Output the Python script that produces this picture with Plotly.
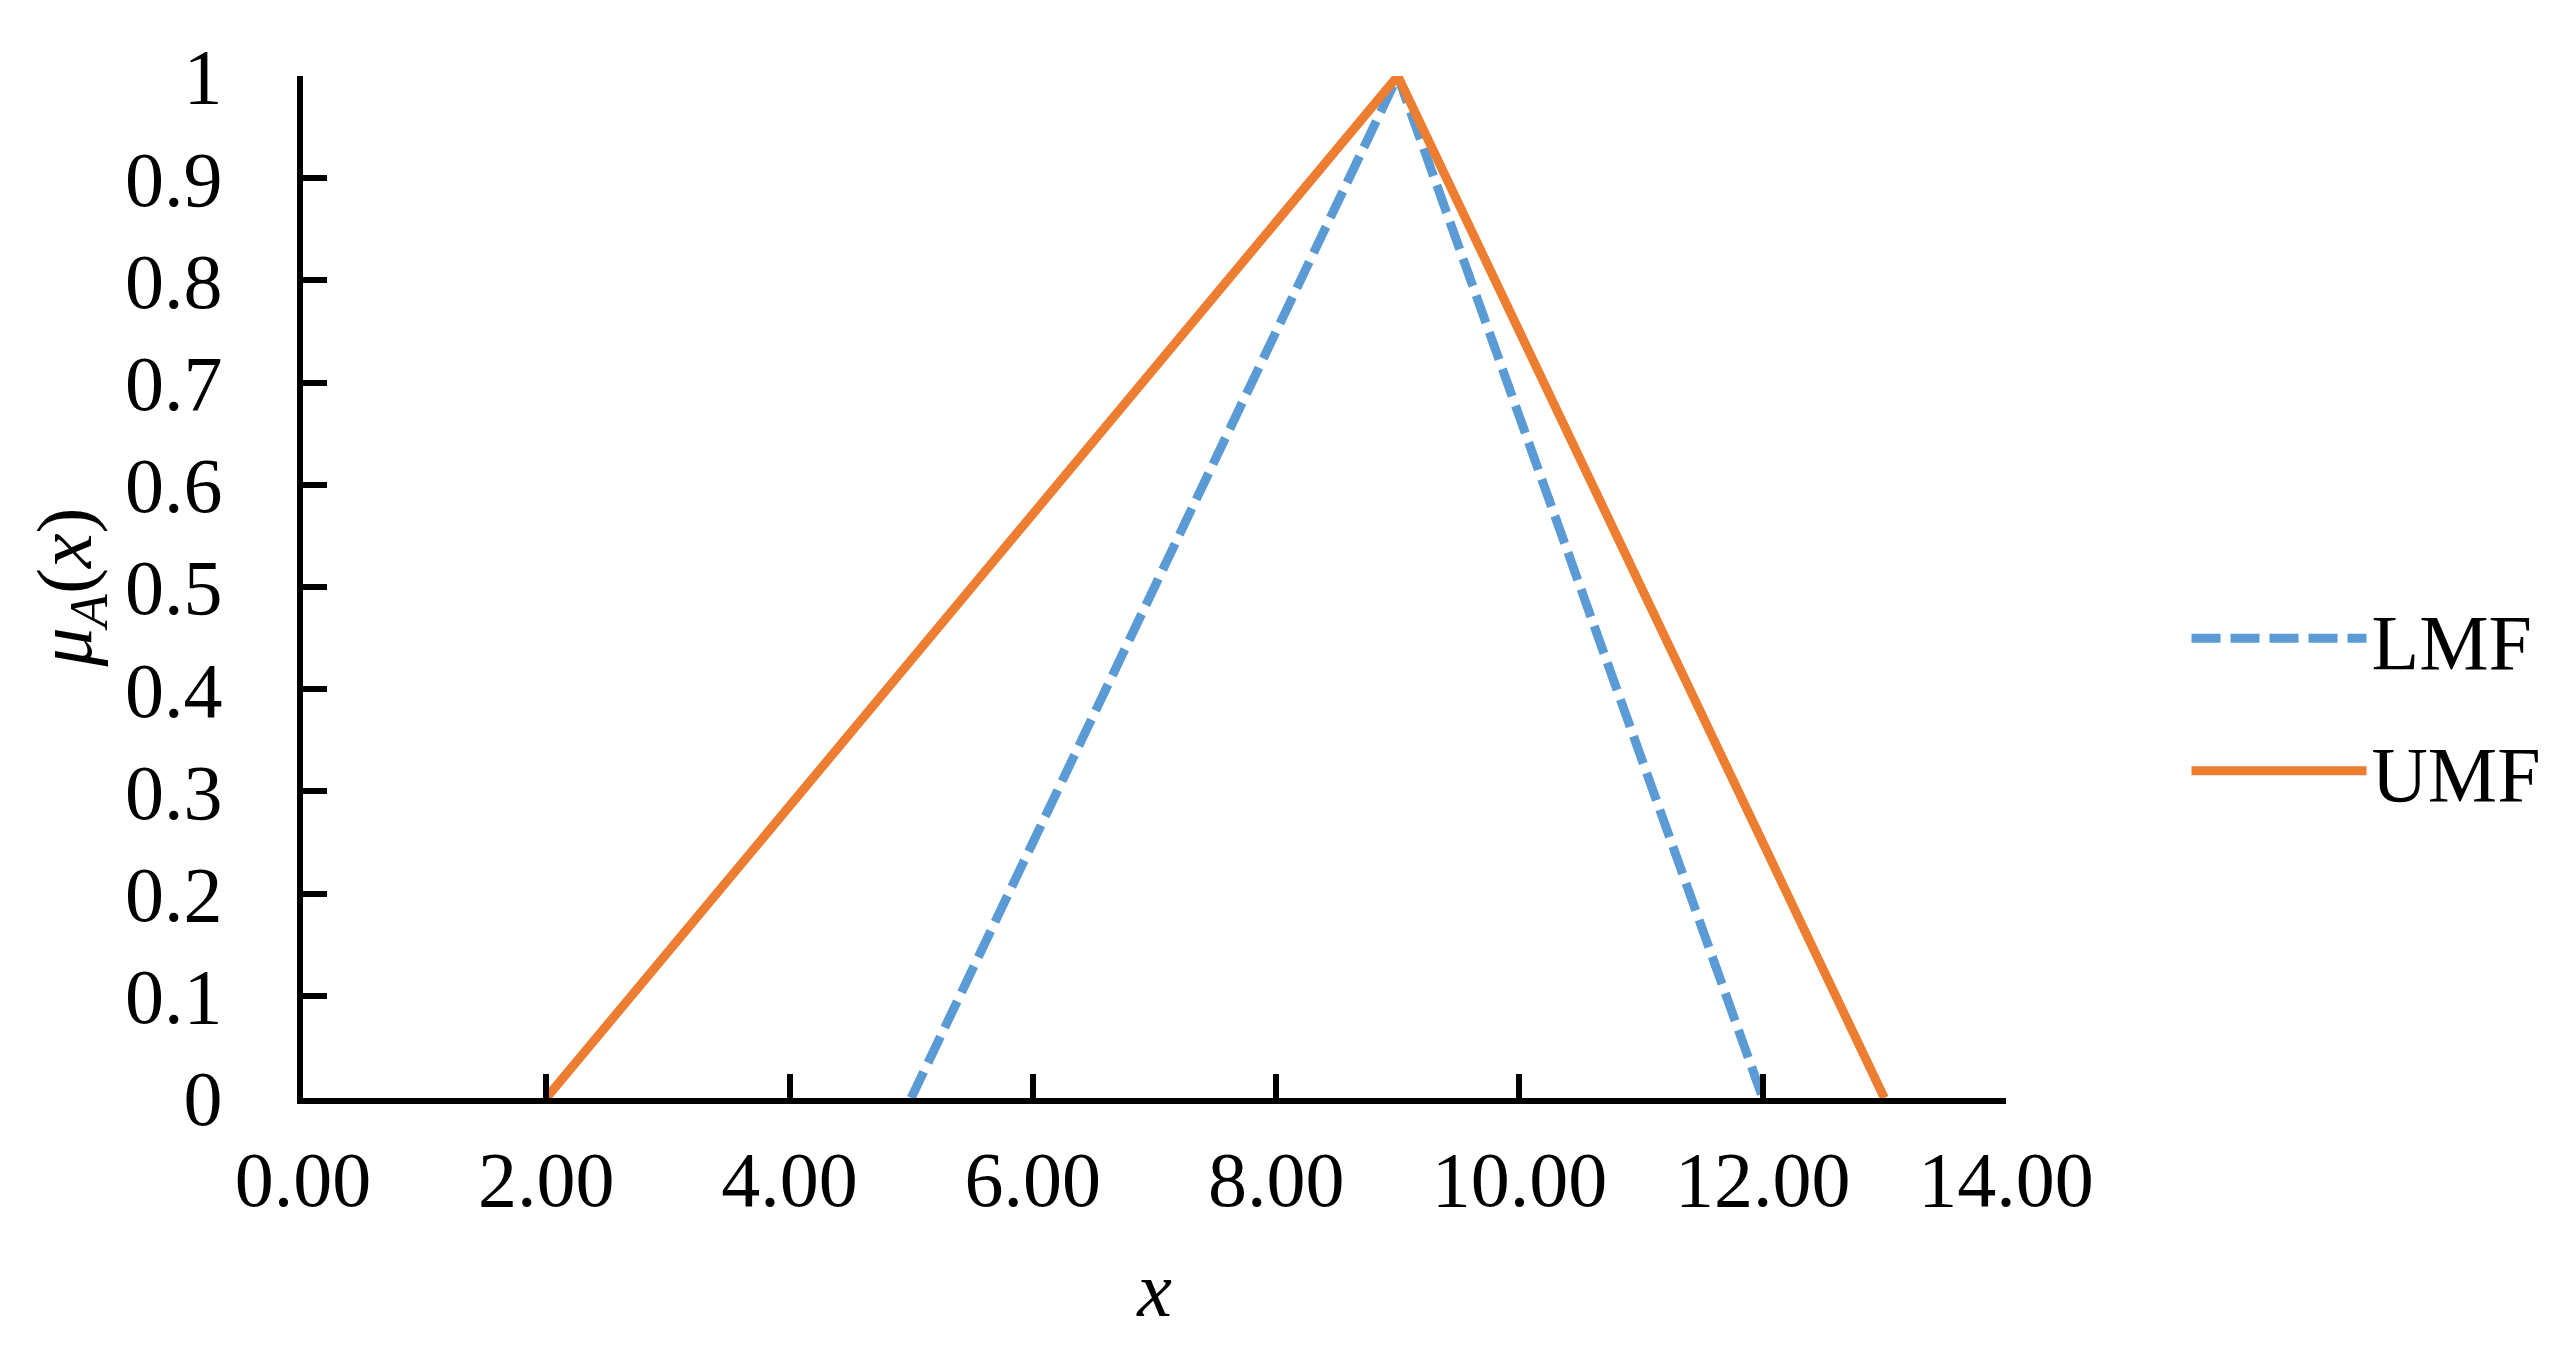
import plotly.graph_objects as go

# Data: triangular membership functions (vertices)
lmf_x = [5.0, 9.0, 12.0]
lmf_y = [0.0, 1.0, 0.0]
umf_x = [2.0, 9.0, 13.0]
umf_y = [0.0, 1.0, 0.0]

x_ticks = [0, 2, 4, 6, 8, 10, 12, 14]
y_ticks = [0, 0.1, 0.2, 0.3, 0.4, 0.5, 0.6, 0.7, 0.8, 0.9, 1]
y_tick_labels = ["0", "0.1", "0.2", "0.3", "0.4", "0.5", "0.6", "0.7", "0.8", "0.9", "1"]

FONT = "Liberation Serif, Times New Roman, serif"
BLUE = "#5B9BD5"
ORANGE = "#ED7D31"
FS = 78

fig = go.Figure()
fig.add_trace(go.Scatter(
    x=lmf_x, y=lmf_y, mode="lines", name="LMF",
    line=dict(color=BLUE, width=9, dash="29px,10px"),
    legendgroup="a",
))
fig.add_trace(go.Scatter(
    x=umf_x, y=umf_y, mode="lines", name="UMF",
    line=dict(color=ORANGE, width=9),
    legendgroup="b",
))

fig.update_layout(
    width=2576, height=1365,
    margin=dict(l=295, r=578, t=68, b=275, autoexpand=False),
    paper_bgcolor="white", plot_bgcolor="white",
    font=dict(family=FONT, size=FS, color="black"),
    showlegend=True,
    legend=dict(
        x=1.106, y=0.385, xanchor="left", yanchor="middle",
        font=dict(family=FONT, size=FS, color="black"),
        itemwidth=175, tracegroupgap=28,
        bgcolor="rgba(0,0,0,0)",
    ),
)

fig.update_xaxes(
    range=[0, 14], tickvals=x_ticks, tickformat=".2f",
    showgrid=False, zeroline=False, automargin=False,
    showline=True, linecolor="black", linewidth=6,
    ticks="inside", ticklen=24, tickwidth=6, tickcolor="black",
    tickfont=dict(family=FONT, size=FS),
    ticklabelstandoff=8,
    title=dict(text="<i>x</i>", font=dict(family=FONT, size=FS), standoff=42),
)
fig.update_yaxes(
    range=[0, 1], tickvals=y_ticks, ticktext=y_tick_labels,
    showgrid=False, zeroline=False, automargin=False,
    showline=True, linecolor="black", linewidth=6,
    ticks="inside", ticklen=24, tickwidth=6, tickcolor="black",
    tickfont=dict(family=FONT, size=FS),
    ticklabelstandoff=59,
    title=dict(text="<i>μ</i><sub><i>A</i></sub>(<i>x</i>)", font=dict(family=FONT, size=FS), standoff=10),
)

fig.write_html("out.html")
